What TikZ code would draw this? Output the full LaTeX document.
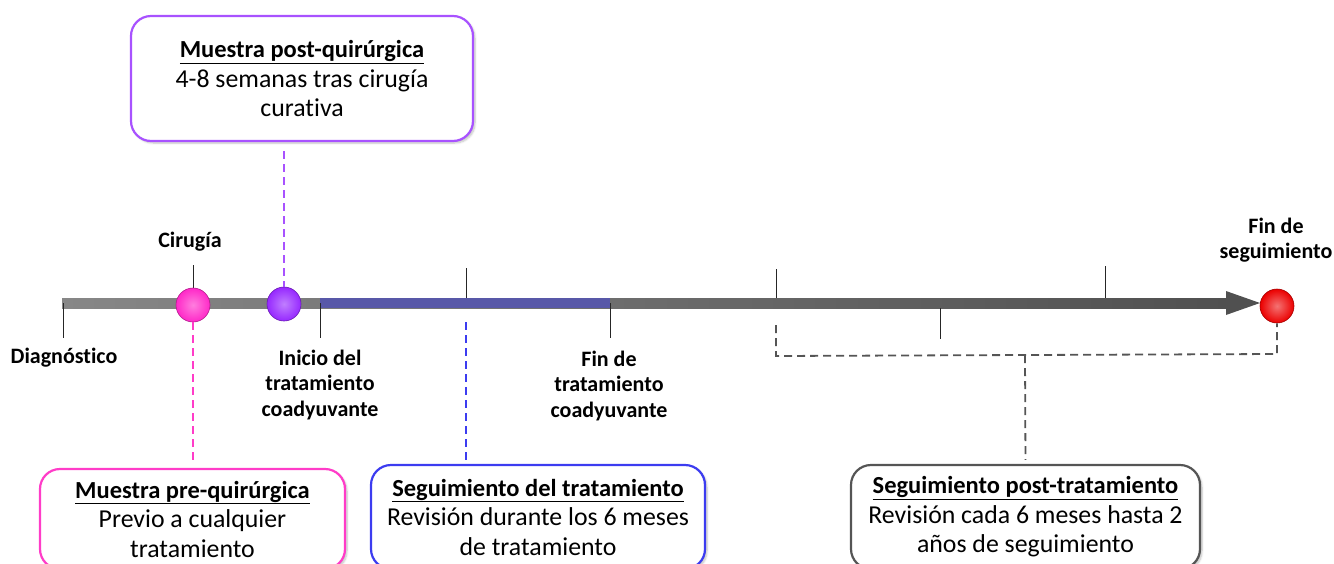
\documentclass[tikz,border=0pt]{standalone}
\usepackage{fontspec}
\setmainfont[Ligatures=NoCommon]{Carlito}
\usetikzlibrary{shadows.blur}
\definecolor{purpc}{RGB}{168,82,255}
\definecolor{pinkc}{RGB}{255,60,200}
\definecolor{bluec}{RGB}{60,60,240}
\definecolor{grayc}{RGB}{85,85,85}
\definecolor{barL}{RGB}{135,135,135}
\definecolor{barR}{RGB}{80,80,80}
\definecolor{barblue}{RGB}{88,88,168}
\definecolor{ballpink}{RGB}{255,40,200}
\definecolor{ballpurp}{RGB}{150,40,255}
\definecolor{ballred}{RGB}{235,0,0}
\newcommand{\boxtitle}[1]{\underline{\fontsize{24.5}{29.5}\selectfont\bfseries #1}}
\tikzset{
  infobox/.style={draw, line width=2.2pt, fill=white, rounded corners=20pt, align=center,
    font=\fontsize{25.8}{29.5}\selectfont, inner sep=0pt,
    blur shadow={shadow xshift=2pt, shadow yshift=-2pt, shadow blur steps=6, shadow opacity=25}},
  lbl/.style={align=center, font=\bfseries\fontsize{22}{25.5}\selectfont, inner sep=0pt},
  tick/.style={line width=1pt, black!85},
  conn/.style={line width=2pt, dash pattern=on 8pt off 5pt},
  ball/.style={circle, minimum size=34pt, inner sep=0pt, line width=0.6pt},
}
\begin{document}
\begin{tikzpicture}[x=1pt,y=-1pt]
\useasboundingbox (0,0) rectangle (1334,563);
% timeline bar
\shade[left color=barL, right color=barR] (62,298) rectangle (1228,308);
\fill[barblue] (320,298) rectangle (610,308);
\fill[barR] (1226,291) -- (1260,303) -- (1226,315) -- cycle;
% ticks
\draw[tick] (63,303) -- (63,338);
\draw[tick] (193,265) -- (193,300);
\draw[tick] (320,303) -- (320,338);
\draw[tick] (466,268) -- (466,298);
\draw[tick] (610,303) -- (610,338);
\draw[tick] (776,269) -- (776,298);
\draw[tick] (940,308) -- (940,339);
\draw[tick] (1105,266) -- (1105,298);
% balls
\node[ball, draw=ballpink!70!black, inner color=ballpink!60!white, outer color=ballpink] (cir) at (193,305) {};
\node[ball, draw=ballpurp!70!black, inner color=ballpurp!60!white, outer color=ballpurp] (post) at (284,304) {};
\node[ball, draw=ballred!70!black, inner color=ballred!55!white, outer color=ballred] (fin) at (1277,306) {};
% labels
\node[lbl] (lcir) at (190,242) {Cirugía};
\node[lbl] (ldiag) at (64,358) {Diagnóstico};
\node[lbl] (lini) at (320,385) {Inicio del\\tratamiento\\coadyuvante};
\node[lbl] (lfint) at (609,386) {Fin de\\tratamiento\\coadyuvante};
\node[lbl] (lfins) at (1276,240) {Fin de\\seguimiento};
% boxes
\node[infobox, draw=purpc, minimum width=342pt, minimum height=125pt] (bpost) at (302,78.5)
  {\boxtitle{Muestra post-quirúrgica}\\4-8 semanas tras cirugía\\curativa};
\node[infobox, draw=pinkc, minimum width=305pt, minimum height=100pt] (bpre) at (192.5,519)
  {\boxtitle{Muestra pre-quirúrgica}\\Previo a cualquier\\tratamiento};
\node[infobox, draw=bluec, minimum width=334pt, minimum height=104pt] (bseg) at (538,517)
  {\boxtitle{Seguimiento del tratamiento}\\Revisión durante los 6 meses\\de tratamiento};
\node[infobox, draw=grayc, minimum width=349pt, minimum height=104pt] (bpt) at (1025.5,517)
  {\boxtitle{Seguimiento post-tratamiento}\\Revisión cada 6 meses hasta 2\\años de seguimiento};
% connectors
\coordinate (bt) at (466,322);
\coordinate (bl) at (776,325);
\coordinate (blc) at (776,356);
\coordinate (brc) at (1277,354);
\coordinate (bmid) at (1025,355);
\draw[conn, purpc, shorten <=9pt] (bpost.south -| post) -- (post.north);
\draw[conn, pinkc, shorten >=7pt] (cir.south) -- (bpre.north -| cir);
\draw[conn, bluec, shorten >=4pt] (bt) -- (bseg.north -| bt);
\draw[conn, grayc, line width=1.8pt] (bl) -- (blc) -- (brc) -- (fin.south);
\draw[conn, grayc, line width=1.8pt, shorten >=4pt] (bmid) -- (bpt.north);
\end{tikzpicture}
\end{document}
